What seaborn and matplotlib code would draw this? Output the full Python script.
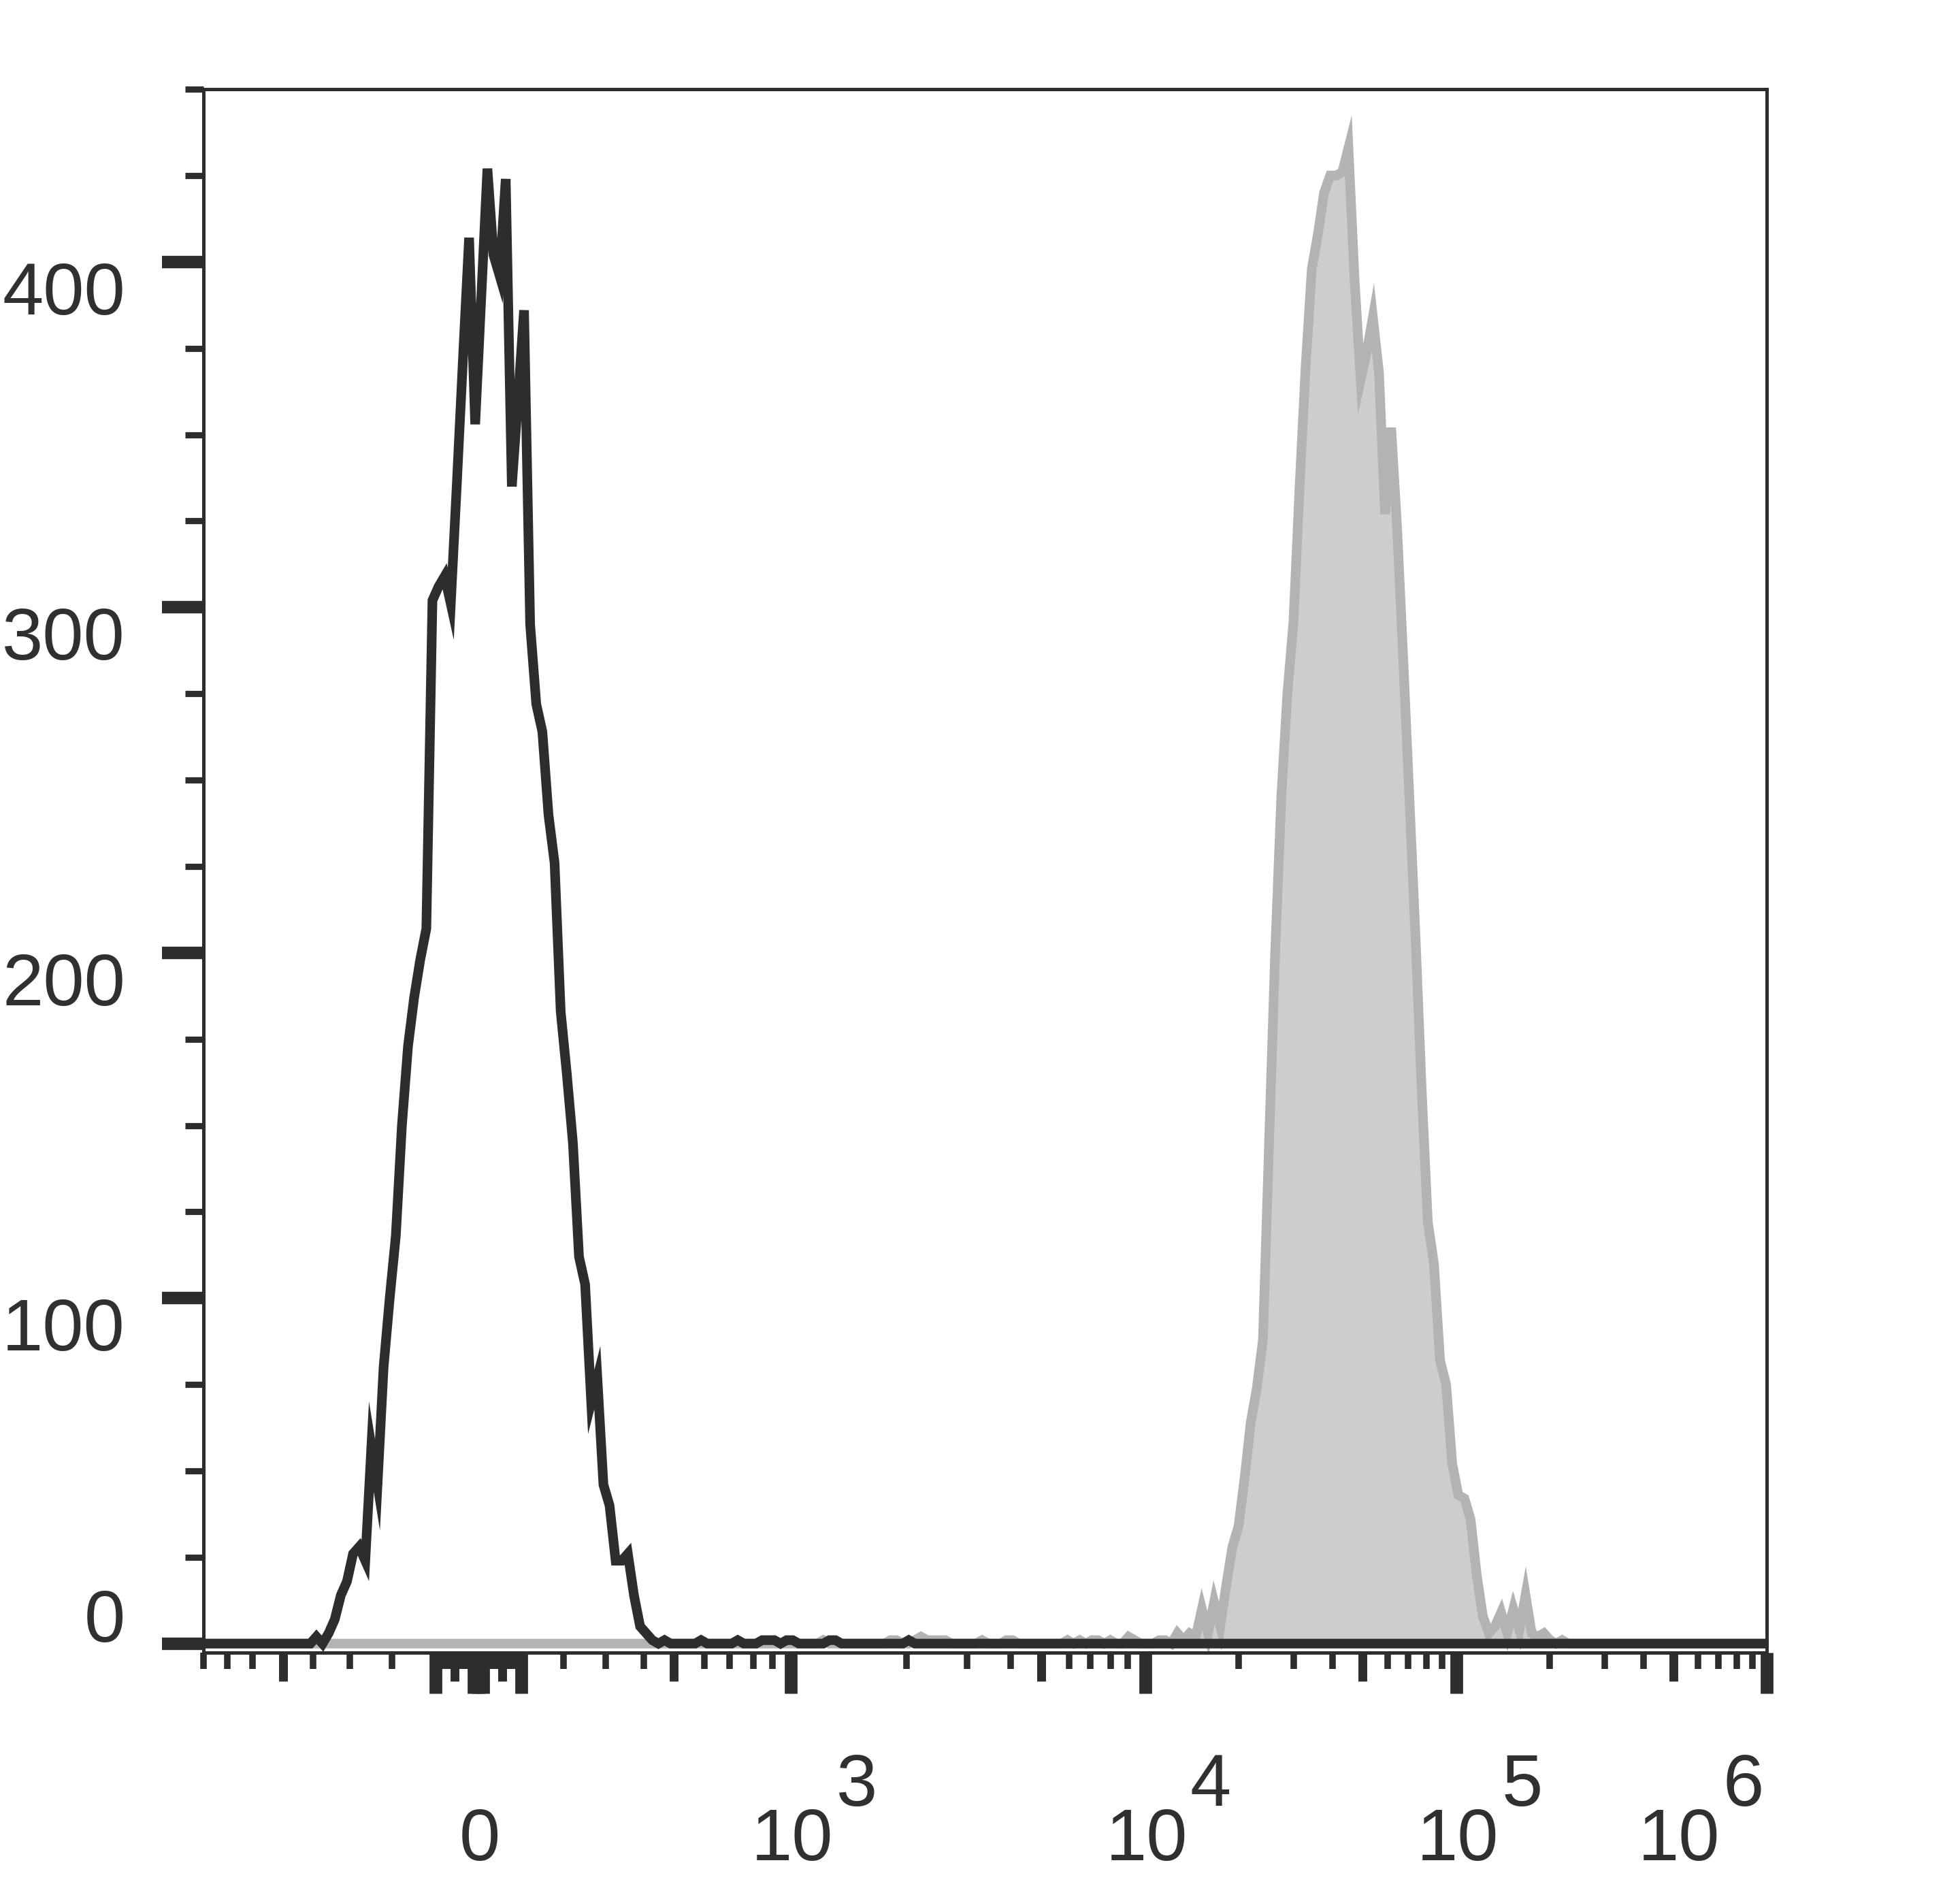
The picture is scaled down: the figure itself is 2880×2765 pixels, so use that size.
import numpy as np
import pandas as pd
import matplotlib
matplotlib.use("Agg")
import matplotlib.pyplot as plt
import seaborn as sns

n_bins = 256

# histogram counts per display channel
black_start = 17
black_counts = [0, 2, 0, 3, 7, 14, 18, 26, 28, 24, 57, 46, 80, 100, 118, 150, 173, 187,
                198, 207, 302, 306, 309, 301, 336, 372, 407, 353, 390, 427, 402, 396, 424,
                335, 360, 386, 295, 272, 264, 240, 226, 183, 165, 145, 112, 104, 70, 77,
                46, 40, 24, 24, 26, 14, 5, 3, 1]
black_noise_bins = [75, 81, 87, 91, 92, 93, 95, 96, 102, 103, 115]
black_noise_counts = [1, 1, 1, 1, 1, 1, 1, 1, 1, 1, 1]

gray_start = 158
gray_counts = [0, 3, 1, 3, 2, 10, 3, 12, 5, 17, 28, 34, 48, 64, 74, 88, 145, 200, 245,
               275, 296, 335, 370, 398, 408, 420, 425, 425, 426, 433, 395, 366, 374, 384,
               368, 327, 352, 322, 284, 244, 204, 160, 122, 110, 82, 75, 52, 43, 42, 36,
               20, 8, 3, 5, 9, 3, 10, 4, 14, 3, 2, 3, 1, 0, 1]
gray_noise_bins = [101, 112, 113, 116, 117, 118, 119, 120, 121, 127, 131, 132, 141, 143,
                   145, 146, 148, 151, 152, 156, 157]
gray_noise_counts = [1, 1, 1, 1, 2, 1, 1, 1, 1, 1, 1, 1, 1, 1, 1, 1, 1, 2, 1, 1, 1]

# biexponential display: fluorescence value -> channel (measured from the tick marks)
scale_values = [-800, -700, -600, -500, -400, -300, -200, -100, 0, 100, 200, 300, 400,
                500, 600, 700, 800, 900, 1e3, 2e3, 3e3, 4e3, 5e3, 6e3, 7e3, 8e3, 9e3,
                1e4, 1e5, 1e6]
scale_channels = [0.0, 3.9, 8.0, 13.0, 18.0, 24.0, 30.9, 38.0, 45.0, 52.1, 59.0, 65.9,
                  72.1, 77.0, 82.0, 86.1, 90.1, 93.2, 96.2, 115.1, 125.1, 132.2, 137.2,
                  141.8, 145.2, 148.6, 151.4, 154.2, 205.2, 256.0]

x_label_values = [0, 1e3, 1e4, 1e5, 1e6]
x_label_base = ["0", "10", "10", "10", "10"]
x_label_exp = ["", "3", "4", "5", "6"]

y_major = [0, 100, 200, 300, 400]
y_minor = list(range(25, 451, 25))


def to_channel(v):
    v = np.asarray(v, dtype=float)
    return np.interp(np.arcsinh(v / 100.0),
                     np.arcsinh(np.asarray(scale_values) / 100.0),
                     scale_channels)


def build_counts(start, counts, noise_bins, noise_counts):
    out = np.zeros(n_bins)
    out[noise_bins] = noise_counts
    out[start:start + len(counts)] = counts
    return out


df = pd.DataFrame({
    "channel": np.arange(n_bins) + 0.5,
    "black": build_counts(black_start, black_counts, black_noise_bins, black_noise_counts),
    "gray": build_counts(gray_start, gray_counts, gray_noise_bins, gray_noise_counts),
})

# tick classes on the biex axis
long_ticks = [-100, -10, 0, 10, 100, 1e3, 1e4, 1e5, 1e6]
mid_ticks = [-500, -50, 50, 500, 5e3, 5e4, 5e5]
short_ticks = [-800, -700, -600, -400, -300, -200]
short_ticks += [s * k for s in (-1, 1) for k in (20, 30, 40, 60, 70, 80, 90)]
short_ticks += [200, 300, 400, 600, 700, 800, 900]
short_ticks += [k * d for d in (1e3, 1e4, 1e5) for k in (2, 3, 4, 6, 7, 8, 9)]

sns.set_theme(style="ticks")
plt.rcParams["font.family"] = ["Liberation Sans", "DejaVu Sans"]

ink = "#2d2d2d"
text_col = "#303030"

fig = plt.figure(figsize=(9.6, 9.2167), dpi=300)
fig.patch.set_facecolor("white")
ax = fig.add_axes([0.1038, 0.1219, 0.7976, 0.8307])

ax.fill_between(df["channel"], df["gray"], color="#cdcdcd", lw=0)
sns.lineplot(data=df, x="channel", y="gray", ax=ax, color="#b3b3b3", lw=3.4,
             estimator=None, sort=False, solid_joinstyle="miter",
             solid_capstyle="projecting")
sns.lineplot(data=df, x="channel", y="black", ax=ax, color=ink, lw=3.4,
             estimator=None, sort=False, solid_joinstyle="miter",
             solid_capstyle="projecting")

ax.set_xlim(0, n_bins)
ax.set_ylim(-2.6, 450)
ax.set_xlabel("")
ax.set_ylabel("")

for side in ["left", "right", "top", "bottom"]:
    ax.spines[side].set_color(ink)
    ax.spines[side].set_linewidth(1.2)

ax.set_xticks(to_channel(long_ticks))
ax.set_xticks(to_channel(short_ticks), minor=True)
ax.set_yticks(y_major)
ax.set_yticks(y_minor, minor=True)
ax.tick_params(axis="both", which="both", direction="out", colors=ink,
               labelbottom=False, labelleft=False, top=False, right=False)
ax.tick_params(axis="x", which="major", length=14.4, width=4.5)
ax.tick_params(axis="x", which="minor", length=5.8, width=2.3)
ax.tick_params(axis="y", which="major", length=14.6, width=4.4)
ax.tick_params(axis="y", which="minor", length=6.5, width=2.2)

# third (medium) tick class through a secondary axis sharing the same channels
sec = ax.secondary_xaxis("bottom", functions=(lambda c: c, lambda c: c))
sec.set_xticks(to_channel(mid_ticks))
sec.tick_params(axis="x", which="major", direction="out", length=10.0, width=3.1,
                colors=ink, labelbottom=False)
sec.xaxis.set_minor_locator(matplotlib.ticker.NullLocator())
sec.spines["bottom"].set_visible(False)

# y tick labels
for v in y_major:
    dy = 0.7 if v == 0 else -18.5
    ax.annotate(str(v), xy=(0, v), xycoords=ax.get_yaxis_transform(),
                xytext=(-27.6, dy), textcoords="offset points",
                ha="right", va="baseline", fontsize=26, color=text_col)

# x tick labels with raised exponents
for v, base, exp in zip(x_label_values, x_label_base, x_label_exp):
    c = float(to_channel(v))
    shift = -31.0 if v == 1e6 else 0.5
    ax.annotate(base, xy=(c, 0), xycoords=("data", "axes fraction"),
                xytext=(shift, -73.2), textcoords="offset points",
                ha="center", va="baseline", fontsize=26, color=text_col,
                annotation_clip=False)
    if exp:
        ax.annotate(exp, xy=(c, 0), xycoords=("data", "axes fraction"),
                    xytext=(shift + 15.4, -54.0), textcoords="offset points",
                    ha="left", va="baseline", fontsize=26, color=text_col,
                    annotation_clip=False)

fig.savefig("out.png", dpi=300, facecolor="white")
